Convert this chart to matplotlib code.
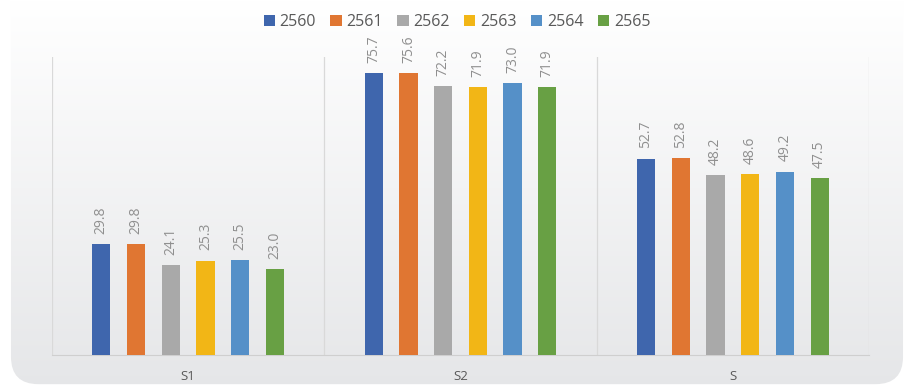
import numpy as np
import matplotlib.pyplot as plt
from matplotlib.patches import FancyBboxPatch

categories = ['S1', 'S2', 'S']
years = ['2560', '2561', '2562', '2563', '2564', '2565']
v2560 = [29.8, 75.7, 52.7]
v2561 = [29.8, 75.6, 52.8]
v2562 = [24.1, 72.2, 48.2]
v2563 = [25.3, 71.9, 48.6]
v2564 = [25.5, 73.0, 49.2]
v2565 = [23.0, 71.9, 47.5]
series = [v2560, v2561, v2562, v2563, v2564, v2565]
colors = ['#3f66ad', '#e07632', '#a9a9a9', '#f2b616', '#5590c8', '#68a044']


def main():
    fig = plt.figure(figsize=(9.14, 3.92), dpi=100)
    fig.patch.set_facecolor('white')

    # gradient background with rounded corners
    bg = fig.add_axes([0, 0, 1, 1])
    bg.set_xlim(0, 1)
    bg.set_ylim(0, 1)
    bg.axis('off')
    grad = np.linspace(0, 1, 256).reshape(-1, 1)
    top = np.array([1.0, 1.0, 1.0])
    bot = np.array([0.898, 0.902, 0.910])
    img = top * (1 - grad[..., None]) + bot * grad[..., None]
    img = img.reshape(256, 1, 3)
    im = bg.imshow(img, extent=[0, 1, 0, 1], aspect='auto', origin='upper')
    box = FancyBboxPatch((0.012, 0.02), 0.976, 1.2, boxstyle='round,pad=0,rounding_size=0.03',
                         mutation_aspect=914 / 392, transform=bg.transAxes,
                         facecolor='none', edgecolor='none')
    bg.add_patch(box)
    im.set_clip_path(box)

    ax = fig.add_axes([52 / 914, 1 - 355 / 392, (869 - 52) / 914, (355 - 57) / 392])
    ax.patch.set_alpha(0)
    ax.set_xlim(-0.5, 2.5)
    ax.set_ylim(0, 80)

    x = np.arange(len(categories))
    step = 0.1275
    width = 0.067
    for i, (vals, col, yr) in enumerate(zip(series, colors, years)):
        pos = x + (i - 2.5) * step
        bars = ax.bar(pos, vals, width, color=col, label=yr, zorder=3)
        for b, v in zip(bars, vals):
            ax.text(b.get_x() + b.get_width() / 2, v + 2.8, f'{v:.1f}',
                    rotation=90, ha='center', va='bottom', fontsize=10,
                    color='#8f8f8f', family='Open Sans')

    for s in ['top', 'right', 'left']:
        ax.spines[s].set_visible(False)
    ax.spines['bottom'].set_color('#cfcfcf')
    for b in [-0.5, 0.5, 1.5, 2.5]:
        ax.axvline(b, color='#d9d9d9', lw=0.9, zorder=1)
    ax.set_yticks([])
    ax.set_xticks(x)
    ax.set_xticklabels(categories, fontsize=9.5, color='#595959', family='Open Sans')
    ax.tick_params(axis='x', length=0, pad=11)

    fig.legend(loc='upper center', bbox_to_anchor=(0.5, 1.0), ncol=6, frameon=False,
               handlelength=0.7, handleheight=0.7, handletextpad=0.3, columnspacing=0.9,
               prop={'family': 'Open Sans', 'size': 11.5}, labelcolor='#595959')

    fig.savefig('out.png', dpi=100)


if __name__ == "__main__":
    main()
